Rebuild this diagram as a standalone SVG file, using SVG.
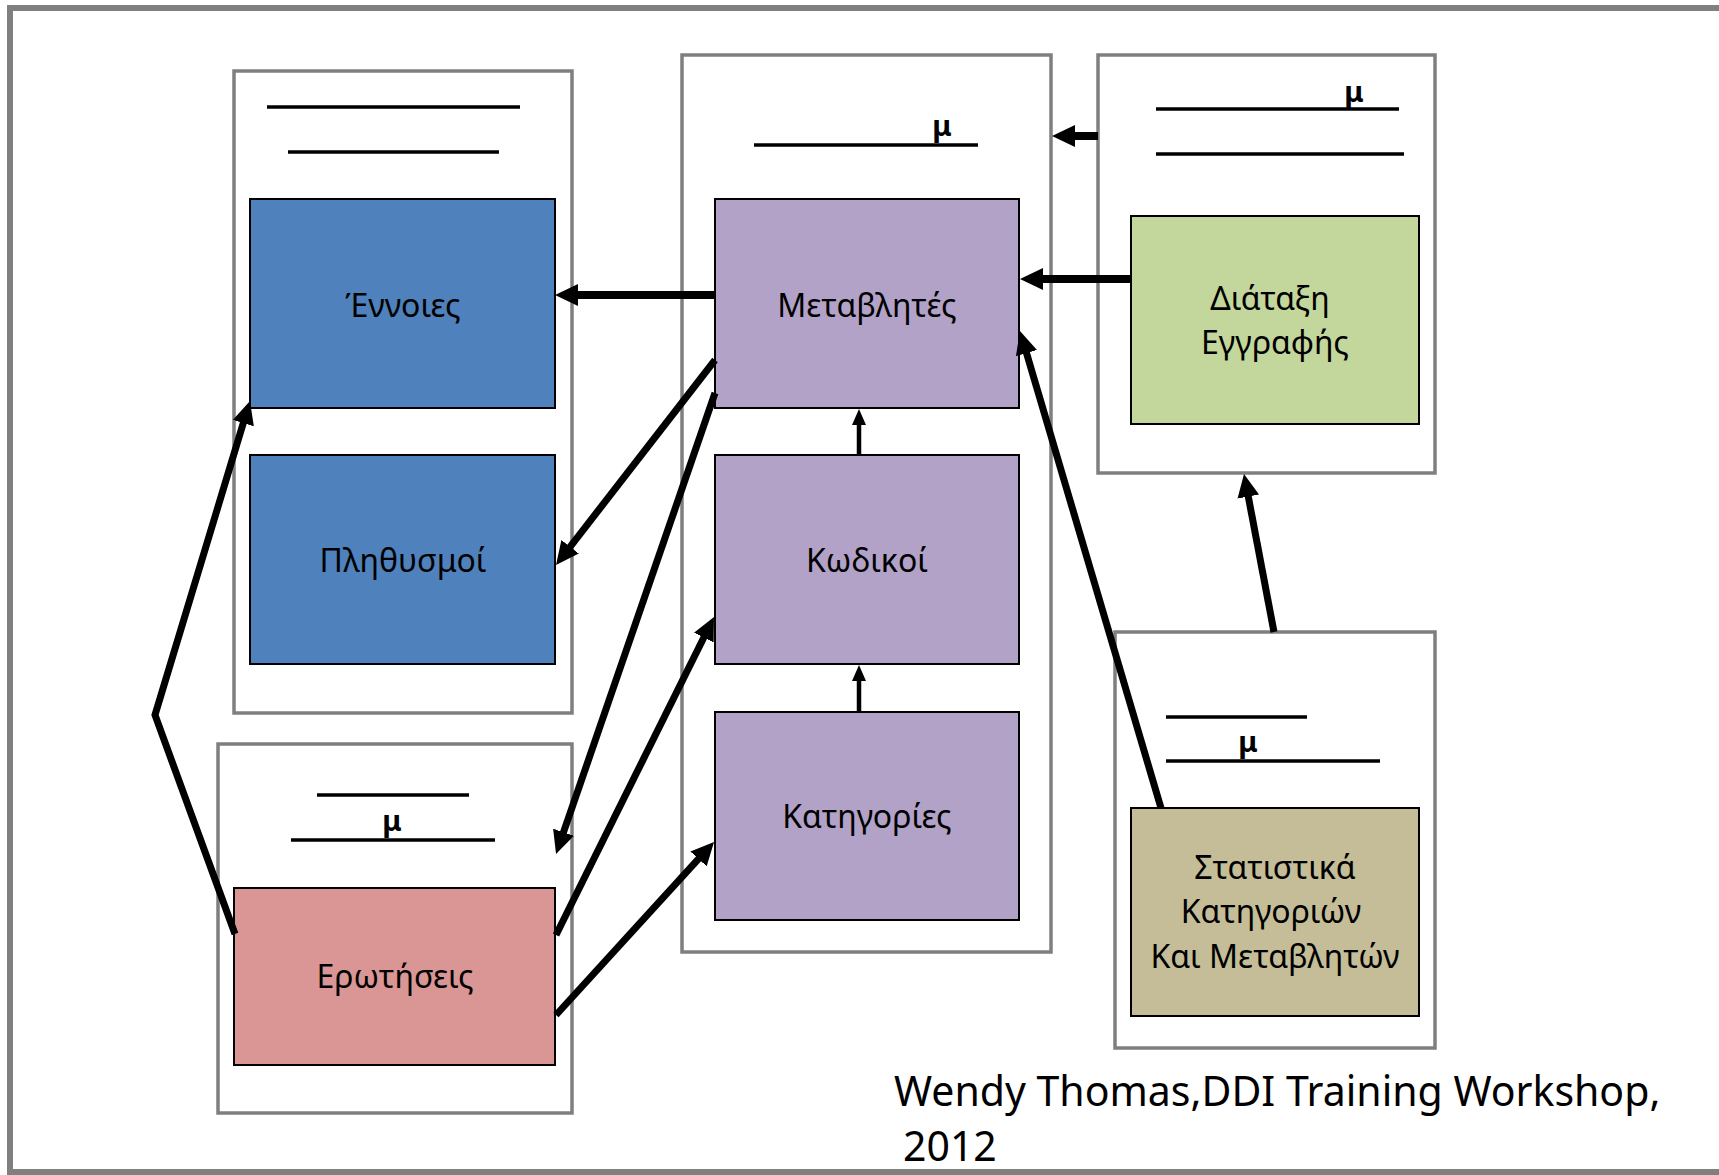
<svg xmlns="http://www.w3.org/2000/svg" width="1719" height="1175" viewBox="0 0 1719 1175">
<defs>
<style>
.frame{fill:#fff;stroke:#7f7f7f;stroke-width:3.5}
.box{stroke:#000;stroke-width:2}
.hl{stroke:#000;stroke-width:3.5}
.lbl{font-family:"Noto Sans","DejaVu Sans",sans-serif;font-size:32px;fill:#000;text-anchor:middle}
.mu{font-family:"Noto Sans","DejaVu Sans",sans-serif;font-size:29px;font-weight:bold;fill:#000;text-anchor:middle}
.foot{font-family:"Noto Sans","DejaVu Sans",sans-serif;font-size:41px;fill:#000}
.c{fill:none;stroke:#000;stroke-linejoin:miter}
</style>
<marker id="ah" viewBox="0 0 23 22" refX="1" refY="11" markerWidth="23" markerHeight="22" markerUnits="userSpaceOnUse" orient="auto">
<path d="M0,0 L23,11 L0,22 z" fill="#000"/>
</marker>
<marker id="ahs" viewBox="0 0 16 14" refX="1" refY="7" markerWidth="16" markerHeight="14" markerUnits="userSpaceOnUse" orient="auto">
<path d="M0,0 L16,7 L0,14 z" fill="#000"/>
</marker>
</defs>
<rect x="0" y="0" width="1719" height="1175" fill="#fff"/>
<rect x="10" y="8" width="1740" height="1164" fill="none" stroke="#808080" stroke-width="6"/>

<g id="group-concepts">
<rect class="frame" x="234" y="71" width="338" height="642"/>
<line class="hl" x1="267" y1="107" x2="520" y2="107"/>
<line class="hl" x1="288" y1="152" x2="499" y2="152"/>
</g>
<g id="node-concepts">
<rect class="box" x="250" y="199" width="305" height="209" fill="#4f81bd"/>
<text class="lbl" x="403" y="317">Έννοιες</text>
</g>
<g id="node-universes">
<rect class="box" x="250" y="455" width="305" height="209" fill="#4f81bd"/>
<text class="lbl" x="403" y="572">Πληθυσμοί</text>
</g>

<g id="group-variables">
<rect class="frame" x="682" y="55" width="369" height="897"/>
<line class="hl" x1="754" y1="145" x2="978" y2="145"/>
<text class="mu" x="942" y="136">μ</text>
</g>
<g id="node-variables">
<rect class="box" x="715" y="199" width="304" height="209" fill="#b2a2c7"/>
<text class="lbl" x="867" y="317">Μεταβλητές</text>
</g>
<g id="node-codes">
<rect class="box" x="715" y="455" width="304" height="209" fill="#b2a2c7"/>
<text class="lbl" x="867" y="572">Κωδικοί</text>
</g>
<g id="node-categories">
<rect class="box" x="715" y="712" width="304" height="208" fill="#b2a2c7"/>
<text class="lbl" x="867" y="828">Κατηγορίες</text>
</g>

<g id="group-record">
<rect class="frame" x="1098" y="55" width="337" height="418"/>
<line class="hl" x1="1156" y1="109" x2="1399" y2="109"/>
<text class="mu" x="1354" y="102">μ</text>
<line class="hl" x1="1156" y1="154" x2="1404" y2="154"/>
</g>
<g id="node-record">
<rect class="box" x="1131" y="216" width="288" height="208" fill="#c3d69b"/>
<text class="lbl" x="1270" y="310">Διάταξη</text>
<text class="lbl" x="1275" y="354">Εγγραφής</text>
</g>

<g id="group-stats">
<rect class="frame" x="1115" y="632" width="320" height="416"/>
<line class="hl" x1="1166" y1="717" x2="1307" y2="717"/>
<line class="hl" x1="1166" y1="761" x2="1380" y2="761"/>
<text class="mu" x="1248" y="752">μ</text>
</g>
<g id="node-stats">
<rect class="box" x="1131" y="808" width="288" height="208" fill="#c4bd97"/>
<text class="lbl" x="1275" y="879">Στατιστικά</text>
<text class="lbl" x="1271" y="923">Κατηγοριών</text>
<text class="lbl" x="1275" y="968">Και Μεταβλητών</text>
</g>

<g id="group-questions">
<rect class="frame" x="218" y="744" width="354" height="369"/>
<line class="hl" x1="317" y1="795" x2="469" y2="795"/>
<line class="hl" x1="291" y1="840" x2="495" y2="840"/>
<text class="mu" x="392" y="831">μ</text>
</g>
<g id="node-questions">
<rect class="box" x="234" y="888" width="321" height="177" fill="#d99694"/>
<text class="lbl" x="395" y="988">Ερωτήσεις</text>
</g>

<g id="connectors">
<line class="c" stroke-width="8" x1="715" y1="295" x2="577" y2="295" marker-end="url(#ah)"/>
<line class="c" stroke-width="8" x1="1131" y1="279" x2="1042" y2="279" marker-end="url(#ah)"/>
<line class="c" stroke-width="8" x1="1098" y1="136" x2="1074" y2="136" marker-end="url(#ah)"/>
<line class="c" stroke-width="4.5" x1="859" y1="455" x2="859" y2="424" marker-end="url(#ahs)"/>
<line class="c" stroke-width="4.5" x1="859" y1="712" x2="859" y2="680" marker-end="url(#ahs)"/>
<line class="c" stroke-width="7" x1="715" y1="360" x2="569.5" y2="547.6" marker-end="url(#ah)"/>
<line class="c" stroke-width="7" x1="715" y1="393" x2="563.2" y2="833.2" marker-end="url(#ah)"/>
<line class="c" stroke-width="7" x1="556" y1="935" x2="704.2" y2="636.7" marker-end="url(#ah)"/>
<line class="c" stroke-width="7" x1="556" y1="1015" x2="699.2" y2="858.2" marker-end="url(#ah)"/>
<polyline class="c" stroke-width="7" points="235,934 155,715 243.6,422.1" marker-end="url(#ah)"/>
<line class="c" stroke-width="7" x1="1161" y1="808" x2="1026.2" y2="352.1" marker-end="url(#ah)"/>
<line class="c" stroke-width="7" x1="1274" y1="632" x2="1248.1" y2="495.6" marker-end="url(#ah)"/>
</g>

<text class="foot" x="894" y="1106">Wendy Thomas,DDI Training Workshop,</text>
<text class="foot" x="903" y="1161">2012</text>
</svg>
